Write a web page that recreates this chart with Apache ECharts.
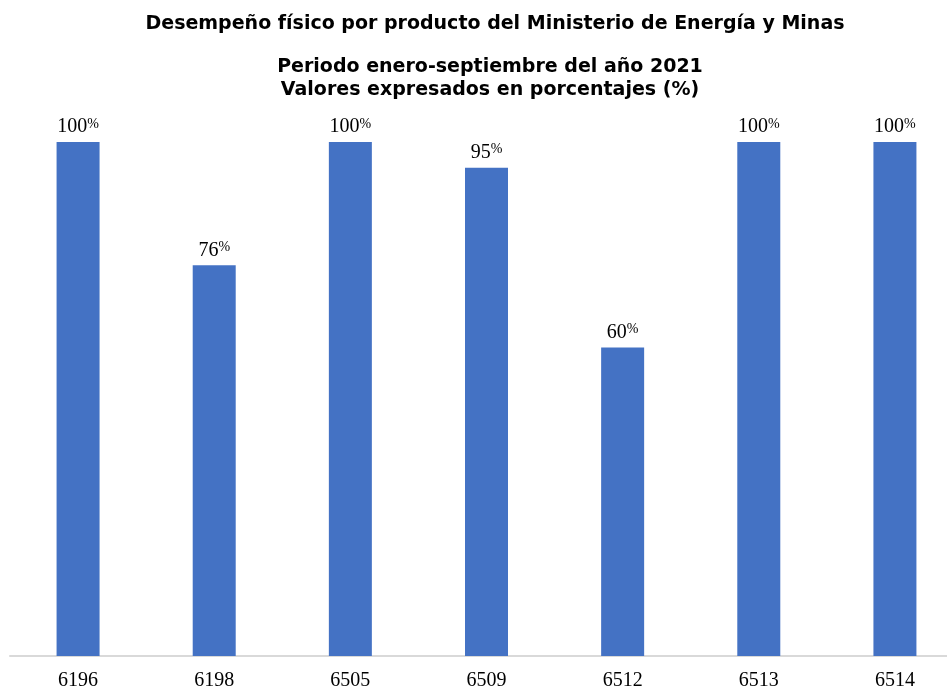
<!DOCTYPE html>
<html><head><meta charset="utf-8">
<script src="https://cdn.jsdelivr.net/npm/echarts@6/dist/echarts.min.js"></script>
<style>html,body{margin:0;padding:0;background:#fff;overflow:hidden}#c{width:963px;height:691px}</style>
</head><body><div id="c"></div>
<script>
const categories = ['6196','6198','6505','6509','6512','6513','6514'];
const values = [100, 76, 100, 95, 60, 100, 100];
const titleMain = 'Desempeño físico por producto del Ministerio de Energía y Minas';
const titleSub = 'Periodo enero-septiembre del año 2021\nValores expresados en porcentajes (%)';

const chart = echarts.init(document.getElementById('c'));
chart.setOption({
  animation: false,
  backgroundColor: '#fff',
  title: [
    {text: titleMain, left: 490, textAlign: 'center', top: 10,
     textStyle: {fontFamily: 'DejaVu Sans', fontWeight: 'bold', fontSize: 19, color: '#000'}},
    {text: titleSub, left: 485, textAlign: 'center', top: 51,
     textStyle: {fontFamily: 'DejaVu Sans', fontWeight: 'bold', fontSize: 19, color: '#000', lineHeight: 23, align: 'center'}}
  ],
  grid: {left: 10, right: 0, top: 142, bottom: 33, containLabel: false},
  xAxis: {
    type: 'category', data: categories,
    axisLine: {lineStyle: {color: '#d9d9d9', width: 2}},
    axisTick: {show: false},
    axisLabel: {fontFamily: 'Liberation Serif', fontSize: 20, color: '#000', margin: 15}
  },
  yAxis: {type: 'value', min: 0, max: 100, show: false, splitLine: {show: false}},
  series: [{
    type: 'bar', data: values, barWidth: 43,
    itemStyle: {color: '#4472c4'},
    label: {show: true, position: 'top', distance: 5, formatter: '{a|{c}}{b|%}',
      rich: {
        a: {fontFamily: 'Liberation Serif', fontSize: 20, color: '#000'},
        b: {fontFamily: 'Liberation Serif', fontSize: 14, color: '#000', verticalAlign: 'top', padding: [0,0,4,0]}
      }}
  }]
});
</script></body></html>
